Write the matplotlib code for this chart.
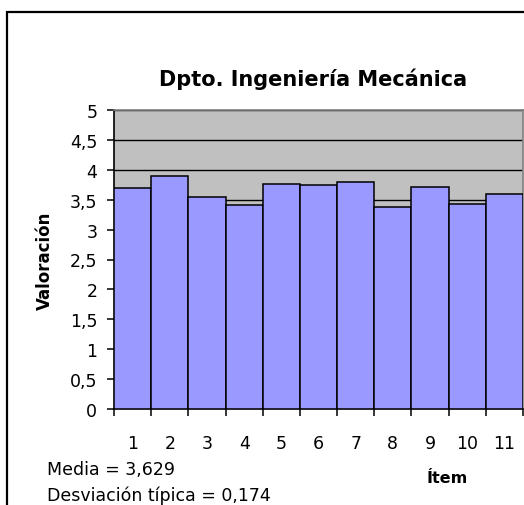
import matplotlib.pyplot as plt
from matplotlib.patches import Rectangle
import numpy as np

plt.rcParams['font.family'] = ['DejaVu Sans']

# data
items = [1, 2, 3, 4, 5, 6, 7, 8, 9, 10, 11]
valores = [3.69, 3.89, 3.55, 3.41, 3.77, 3.75, 3.80, 3.37, 3.71, 3.43, 3.60]
yticks = [0, 0.5, 1, 1.5, 2, 2.5, 3, 3.5, 4, 4.5, 5]
ytick_labels = ['0', '0,5', '1', '1,5', '2', '2,5', '3', '3,5', '4', '4,5', '5']
titulo = 'Dpto. Ingeniería Mecánica'
media_txt = 'Media = 3,629'
desv_txt = 'Desviación típica = 0,174'

W, H = 524, 506
fig = plt.figure(figsize=(W / 100, H / 100), dpi=100)

# outer chart border (cut at right and bottom)
fig.patches.append(Rectangle((6.5 / W, -0.1), 1.2, 1 - 13 / H + 0.1,
                             transform=fig.transFigure, fill=False,
                             edgecolor='black', linewidth=1.6))

ax = fig.add_axes([114 / W, (H - 410) / H, (523 - 114) / W, (410 - 111) / H])
ax.set_facecolor('#C0C0C0')
ax.bar(items, valores, width=1.0, color='#9999FF', edgecolor='black',
       linewidth=1.1, zorder=3)

ax.set_xlim(0.5, 11.5)
ax.set_ylim(0, 5)
ax.set_yticks(yticks)
ax.set_yticklabels(ytick_labels, fontsize=12.5)
ax.yaxis.grid(True, color='black', linewidth=1.0, zorder=1)
ax.set_axisbelow(True)

# category labels centred, ticks at boundaries
ax.set_xticks(items)
ax.set_xticklabels([str(i) for i in items], fontsize=12.5)
ax.tick_params(axis='x', which='major', length=0, pad=18)
ax.set_xticks(np.arange(0.5, 12, 1), minor=True)
ax.tick_params(axis='x', which='minor', length=5, width=1.1, color='black')
ax.tick_params(axis='y', length=5, width=1.1, pad=7)

for s in ['left', 'bottom']:
    ax.spines[s].set_color('black')
    ax.spines[s].set_linewidth(1.2)
for s in ['top', 'right']:
    ax.spines[s].set_color('#808080')
    ax.spines[s].set_linewidth(1.2)

fig.text(313 / W, 1 - 86 / H, titulo, fontsize=15, fontweight='bold',
         ha='center', va='baseline')
fig.text(45 / W, 1 - 261 / H, 'Valoración', fontsize=12, fontweight='bold',
         rotation=90, ha='center', va='center')
fig.text(447 / W, 1 - 483 / H, 'Ítem', fontsize=11.5, fontweight='bold',
         ha='center', va='baseline')
fig.text(47 / W, 1 - 475 / H, media_txt, fontsize=12.5, ha='left', va='baseline')
fig.text(47 / W, 1 - 501 / H, desv_txt, fontsize=12.5, ha='left', va='baseline')

fig.savefig('out.png', dpi=100)
